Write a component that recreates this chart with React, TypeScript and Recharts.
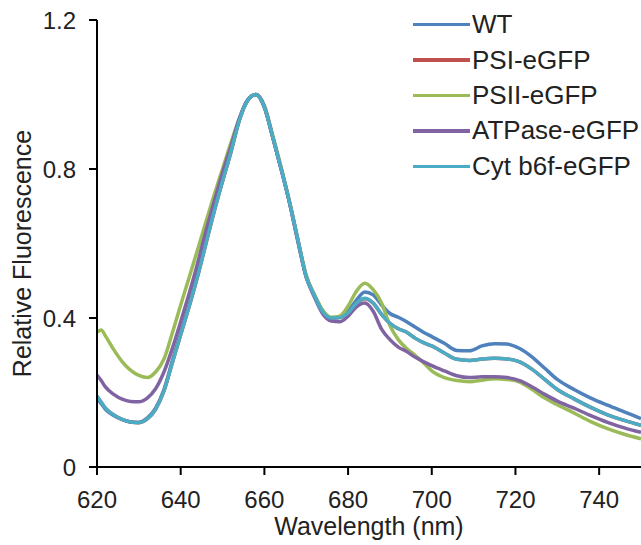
import React from 'react';
import { LineChart, Line, XAxis, YAxis, Legend } from 'recharts';

const wavelengths = [620, 621, 622, 624, 626, 628, 630, 632, 634, 636, 638, 640, 642, 644, 646, 648, 650, 652, 654, 656, 658, 660, 662, 664, 666, 668, 670, 672, 674, 676, 678, 680, 682, 684, 686, 688, 690, 692, 694, 696, 698, 700, 703, 706, 709, 712, 715, 718, 721, 724, 727, 730, 734, 738, 742, 746, 750];

const wt = [0.185, 0.17, 0.155, 0.138, 0.127, 0.121, 0.12, 0.131, 0.158, 0.208, 0.285, 0.36, 0.435, 0.515, 0.603, 0.69, 0.77, 0.848, 0.932, 0.985, 1.0, 0.965, 0.885, 0.8, 0.71, 0.61, 0.51, 0.46, 0.415, 0.4, 0.402, 0.418, 0.448, 0.47, 0.462, 0.435, 0.412, 0.402, 0.39, 0.376, 0.362, 0.35, 0.332, 0.313, 0.312, 0.325, 0.331, 0.33, 0.318, 0.295, 0.265, 0.235, 0.208, 0.185, 0.166, 0.148, 0.13];
const psi = [0.19, 0.174, 0.158, 0.14, 0.128, 0.121, 0.119, 0.129, 0.155, 0.204, 0.28, 0.355, 0.43, 0.51, 0.598, 0.686, 0.767, 0.845, 0.93, 0.984, 1.0, 0.966, 0.886, 0.801, 0.711, 0.61, 0.511, 0.46, 0.416, 0.4, 0.401, 0.414, 0.44, 0.452, 0.44, 0.41, 0.386, 0.371, 0.362, 0.346, 0.334, 0.325, 0.306, 0.289, 0.286, 0.29, 0.292, 0.29, 0.282, 0.262, 0.235, 0.208, 0.183, 0.16, 0.14, 0.125, 0.112];
const psii = [0.362, 0.368, 0.352, 0.315, 0.283, 0.26, 0.246, 0.24, 0.255, 0.29, 0.36, 0.435, 0.508, 0.582, 0.657, 0.73, 0.8, 0.87, 0.935, 0.985, 1.0, 0.97, 0.89, 0.805, 0.713, 0.61, 0.515, 0.462, 0.42, 0.402, 0.405, 0.432, 0.472, 0.493, 0.476, 0.44, 0.38, 0.342, 0.318, 0.3, 0.28, 0.258, 0.24, 0.232, 0.229, 0.233, 0.237, 0.235, 0.228, 0.208, 0.185, 0.167, 0.145, 0.122, 0.103, 0.088, 0.076];
const atpase = [0.247, 0.232, 0.215, 0.195, 0.182, 0.176, 0.175, 0.185, 0.21, 0.255, 0.318, 0.39, 0.465, 0.545, 0.632, 0.712, 0.79, 0.86, 0.935, 0.985, 1.0, 0.968, 0.885, 0.8, 0.71, 0.605, 0.51, 0.455, 0.41, 0.392, 0.39, 0.405, 0.43, 0.44, 0.418, 0.37, 0.342, 0.322, 0.31, 0.295, 0.283, 0.272, 0.258, 0.245, 0.24, 0.242, 0.242, 0.24, 0.232, 0.215, 0.195, 0.177, 0.158, 0.138, 0.12, 0.105, 0.093];
const cyt = [0.19, 0.174, 0.158, 0.14, 0.128, 0.121, 0.119, 0.129, 0.155, 0.204, 0.28, 0.355, 0.43, 0.51, 0.598, 0.686, 0.767, 0.845, 0.93, 0.984, 1.0, 0.966, 0.886, 0.801, 0.711, 0.61, 0.511, 0.46, 0.416, 0.4, 0.401, 0.414, 0.44, 0.453, 0.44, 0.41, 0.386, 0.371, 0.362, 0.346, 0.334, 0.325, 0.306, 0.289, 0.286, 0.29, 0.292, 0.29, 0.282, 0.262, 0.235, 0.208, 0.183, 0.16, 0.14, 0.125, 0.112];

const xTicks = [620, 640, 660, 680, 700, 720, 740];
const yTicks = [0, 0.4, 0.8, 1.2];

const series = [
  { key: 'wt', name: 'WT', color: '#4F81BD', values: wt },
  { key: 'psi', name: 'PSI-eGFP', color: '#C0504D', values: psi },
  { key: 'psii', name: 'PSII-eGFP', color: '#9BBB59', values: psii },
  { key: 'atpase', name: 'ATPase-eGFP', color: '#8064A2', values: atpase },
  { key: 'cyt', name: 'Cyt b6f-eGFP', color: '#4BACC6', values: cyt },
];

const rows = wavelengths.map((nm, i) => {
  const r: Record<string, number> = { nm };
  series.forEach((s) => { r[s.key] = s.values[i]; });
  return r;
});

const FONT = '"Liberation Sans", Arial, Helvetica, sans-serif';

const LegendContent = () => (
  <div style={{ fontFamily: FONT }}>
    {series.map((s) => (
      <div key={s.key} style={{ display: 'flex', alignItems: 'center', height: 35.4 }}>
        <span style={{ display: 'inline-block', width: 57, height: 3.5, background: s.color }} />
        <span style={{ marginLeft: 2, fontSize: 26, color: '#222', whiteSpace: 'nowrap' }}>{s.name}</span>
      </div>
    ))}
  </div>
);

const YLabel = (props: any) => {
  const vb = props.viewBox || {};
  const cx = 22;
  const cy = (vb.y ?? 20) + (vb.height ?? 447) / 2 + 10;
  return (
    <text x={cx} y={cy} textAnchor="middle" dominantBaseline="central" transform={`rotate(-90, ${cx}, ${cy})`} fontSize={25} fill="#222" fontFamily={FONT}>
      Relative Fluorescence
    </text>
  );
};

export default function App() {
  return (
    <div style={{ position: 'absolute', left: 0, top: 0, width: 641, height: 545, overflow: 'hidden', background: '#fff' }}>
      <LineChart width={641} height={545} data={rows} margin={{ top: 20, right: 0, bottom: 0, left: 0 }}>
        <XAxis
          dataKey="nm"
          type="number"
          domain={[620, 750]}
          ticks={xTicks}
          allowDataOverflow
          height={78}
          tickSize={8}
          tickMargin={16}
          axisLine={{ stroke: '#000', strokeWidth: 2 }}
          tickLine={{ stroke: '#000', strokeWidth: 2 }}
          tick={{ fontSize: 24, fill: '#222', fontFamily: FONT }}
          label={{ value: 'Wavelength (nm)', position: 'insideBottom', offset: 10, fontSize: 25, fill: '#222', fontFamily: FONT }}
        />
        <YAxis
          type="number"
          domain={[0, 1.2]}
          ticks={yTicks}
          width={97}
          tickSize={8}
          tickMargin={13}
          axisLine={{ stroke: '#000', strokeWidth: 2 }}
          tickLine={{ stroke: '#000', strokeWidth: 2 }}
          tick={{ fontSize: 24, fill: '#222', fontFamily: FONT }}
          tickFormatter={(v: number) => (v === 0 ? '0' : v.toFixed(1))}
          label={<YLabel />}
        />
        <Legend
          layout="horizontal"
          verticalAlign="middle"
          align="center"
          content={<LegendContent />}
          wrapperStyle={{ top: 7, left: 413, width: 240 }}
        />
        {series.map((s) => (
          <Line
            key={s.key}
            dataKey={s.key}
            name={s.name}
            type="monotone"
            stroke={s.color}
            strokeWidth={3.5}
            dot={false}
            activeDot={false}
            isAnimationActive={false}
          />
        ))}
      </LineChart>
    </div>
  );
}
